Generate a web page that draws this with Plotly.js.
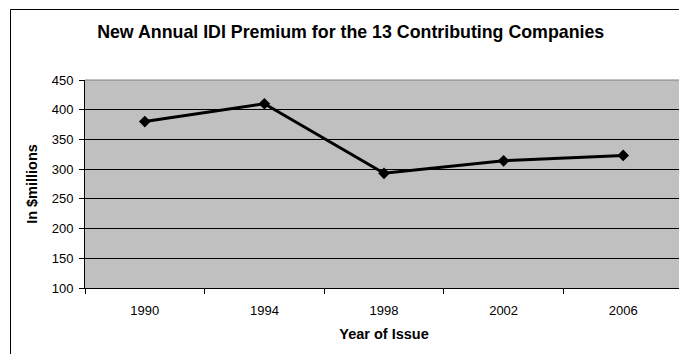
<!DOCTYPE html>
<html>
<head>
<meta charset="utf-8">
<script src="https://cdn.plot.ly/plotly-3.0.1.min.js"></script>
<style>
  html, body { margin: 0; padding: 0; background: #fff; overflow: hidden; }
  #chart { width: 700px; height: 354px; }
</style>
</head>
<body>
<div id="chart"></div>
<script>
// Year of issue categories and new annual IDI premium ($ millions)
const years = ["1990", "1994", "1998", "2002", "2006"];
const premium = [380, 410, 293, 314, 323];
const yTicks = [100, 150, 200, 250, 300, 350, 400, 450];

const FONT = "Liberation Sans, Arial, sans-serif";

// plot area geometry in pixels (used to place the frame around the chart)
const W = 700, H = 354;
const M = { l: 85, r: 17, t: 80, b: 66 };
const pw = W - M.l - M.r, ph = H - M.t - M.b;
const px = v => (v - M.l) / pw;
const py = v => (H - M.b - v) / ph;

const trace = {
  type: "scatter",
  mode: "lines+markers",
  x: years,
  y: premium,
  line: { color: "#000", width: 3 },
  marker: { symbol: "diamond", size: 9, color: "#000", line: { width: 0 } },
  hoverinfo: "x+y"
};

const layout = {
  width: W,
  height: H,
  margin: M,
  paper_bgcolor: "#fff",
  plot_bgcolor: "#C0C0C0",
  showlegend: false,
  font: { family: FONT, color: "#000", size: 13 },
  title: {
    text: "<b>New Annual IDI Premium for the 13 Contributing Companies</b>",
    font: { family: FONT, size: 17.8, color: "#000" },
    xref: "container", yref: "container",
    x: 350.7 / W, xanchor: "center",
    y: 1 - 31.5 / H, yanchor: "middle"
  },
  xaxis: {
    type: "category",
    range: [-0.5, 4.5],
    tickson: "boundaries",
    ticks: "outside", ticklen: 5, tickcolor: "#000", tickwidth: 1,
    ticklabelstandoff: 10,
    showline: true, linecolor: "#000", linewidth: 1,
    showgrid: false, zeroline: false,
    tickfont: { family: FONT, size: 13, color: "#000" },
    title: {
      text: "<b>Year of Issue</b>",
      font: { family: FONT, size: 14.5, color: "#000" },
      standoff: 12
    },
    fixedrange: true
  },
  yaxis: {
    range: [100, 450],
    tickvals: yTicks,
    ticktext: yTicks.map(String),
    ticks: "outside", ticklen: 5, tickcolor: "#000", tickwidth: 1,
    ticklabelstandoff: 3,
    showline: true, linecolor: "#000", linewidth: 1,
    showgrid: true, gridcolor: "#000", gridwidth: 1,
    zeroline: false,
    tickfont: { family: FONT, size: 13, color: "#000" },
    title: {
      text: "<b>In $millions</b>",
      font: { family: FONT, size: 14.5, color: "#000" },
      standoff: 10
    },
    fixedrange: true
  },
  shapes: [
    // grey top edge of the plot area
    {
      type: "line", xref: "paper", yref: "paper",
      x0: 0, x1: 1, y0: 1, y1: 1,
      line: { color: "#808080", width: 1 }, layer: "above"
    },
    // thin frame around the whole chart
    {
      type: "rect", xref: "paper", yref: "paper",
      x0: px(10.5), x1: px(W + 5),
      y0: py(H + 5), y1: py(9.5),
      line: { color: "#000", width: 1 }, fillcolor: "rgba(0,0,0,0)",
      layer: "above"
    }
  ]
};

Plotly.newPlot("chart", [trace], layout, { displayModeBar: false, staticPlot: true });
</script>
</body>
</html>
